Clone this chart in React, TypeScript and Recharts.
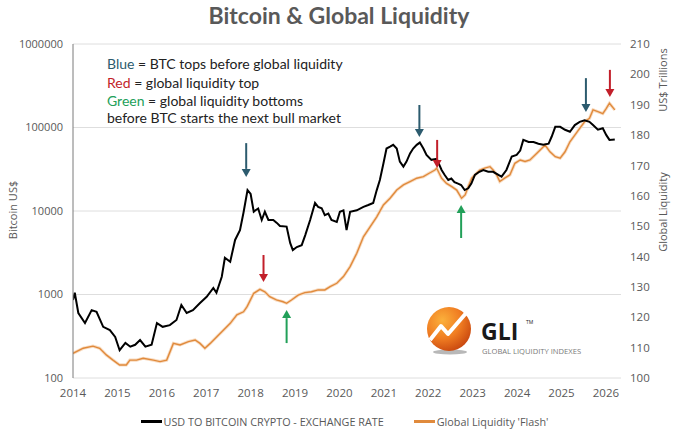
import React from 'react';
import { ComposedChart, Line, XAxis, YAxis, CartesianGrid, Legend, ReferenceLine } from 'recharts';

// BTC price (USD, log axis)
const btcDates = [
  2014.0, 2014.04, 2014.12, 2014.27, 2014.42, 2014.53, 2014.68, 2014.83, 2014.95, 2015.05,
  2015.18, 2015.29, 2015.4, 2015.51, 2015.63, 2015.77, 2015.89, 2016.02, 2016.18, 2016.33,
  2016.44, 2016.56, 2016.7, 2016.86, 2017.01, 2017.16, 2017.23, 2017.35, 2017.42, 2017.54,
  2017.65, 2017.76, 2017.84, 2017.93, 2018.0, 2018.07, 2018.11, 2018.17, 2018.25, 2018.32,
  2018.4, 2018.51, 2018.59, 2018.66, 2018.81, 2018.89, 2018.95, 2019.04, 2019.15, 2019.23,
  2019.34, 2019.45, 2019.52, 2019.6, 2019.67, 2019.75, 2019.82, 2019.94, 2020.01, 2020.09,
  2020.16, 2020.24, 2020.39, 2020.54, 2020.65, 2020.76, 2020.84, 2020.91, 2020.99, 2021.06,
  2021.14, 2021.21, 2021.29, 2021.36, 2021.44, 2021.51, 2021.59, 2021.66, 2021.74, 2021.81,
  2021.89, 2021.96, 2022.07, 2022.19, 2022.3, 2022.37, 2022.45, 2022.52, 2022.59, 2022.67,
  2022.74, 2022.82, 2022.9, 2022.97, 2023.05, 2023.15, 2023.24, 2023.35, 2023.46, 2023.58,
  2023.65, 2023.76, 2023.88, 2023.99, 2024.07, 2024.14, 2024.26, 2024.37, 2024.48, 2024.59,
  2024.71, 2024.78, 2024.86, 2024.97, 2025.08, 2025.19, 2025.3, 2025.41, 2025.52, 2025.63,
  2025.71, 2025.82, 2025.93, 2026.01, 2026.08, 2026.2,
];
const btcPrices = [
  860, 1050, 600, 455, 650, 620, 410, 375, 310, 215,
  263, 237, 250, 285, 237, 250, 455, 410, 430, 495,
  750, 600, 650, 790, 940, 1200, 1050, 1630, 2750, 2470,
  4500, 5900, 9600, 17800, 16000, 9800, 10200, 10700, 7800, 9800,
  7800, 7800, 7200, 6600, 6500, 4150, 3400, 3700, 3900, 5150,
  7800, 12500, 11200, 10800, 8900, 9300, 7800, 7400, 9800, 10200,
  5900, 9800, 10200, 11200, 11800, 12500, 17800, 23500, 37000, 56000,
  59000, 62000, 56000, 39000, 34000, 39000, 49000, 56000, 62000, 66000,
  56000, 47000, 41000, 42000, 31000, 27000, 23500, 24500, 22200, 21300,
  20500, 17800, 18700, 21300, 27000, 29500, 31000, 29500, 29500, 27000,
  25800, 31000, 45000, 47000, 53000, 71000, 67000, 67000, 64000, 62000,
  64000, 78000, 102000, 102000, 94000, 89000, 107000, 117000, 122000, 117000,
  107000, 94000, 98000, 81000, 71000, 72000,
];

// Global Liquidity 'Flash' (US$ trillions, right axis)
const gliDates = [
  2014.0, 2014.23, 2014.45, 2014.6, 2014.75, 2014.9, 2015.05, 2015.2, 2015.28, 2015.43,
  2015.58, 2015.81, 2015.96, 2016.11, 2016.26, 2016.41, 2016.6, 2016.75, 2016.86, 2016.97,
  2017.09, 2017.24, 2017.39, 2017.54, 2017.69, 2017.84, 2017.92, 2018.07, 2018.21, 2018.32,
  2018.43, 2018.58, 2018.73, 2018.81, 2018.92, 2019.07, 2019.22, 2019.37, 2019.52, 2019.67,
  2019.79, 2019.94, 2020.09, 2020.24, 2020.39, 2020.54, 2020.69, 2020.84, 2020.99, 2021.14,
  2021.29, 2021.44, 2021.59, 2021.74, 2021.89, 2022.04, 2022.15, 2022.19, 2022.3, 2022.41,
  2022.53, 2022.64, 2022.75, 2022.83, 2022.9, 2022.98, 2023.05, 2023.16, 2023.27, 2023.39,
  2023.46, 2023.54, 2023.61, 2023.72, 2023.84, 2023.95, 2024.07, 2024.18, 2024.29, 2024.41,
  2024.52, 2024.63, 2024.74, 2024.86, 2024.97, 2025.08, 2025.19, 2025.3, 2025.41, 2025.52,
  2025.63, 2025.71, 2025.82, 2025.93, 2026.01, 2026.08, 2026.2,
];
const gliValues = [
  108.1, 109.8, 110.5, 109.8, 107.6, 105.9, 104.3, 104.3, 105.9, 105.9,
  106.5, 105.9, 105.4, 105.9, 111.4, 110.9, 112, 112.5, 111.4, 109.8,
  111.4, 113.6, 115.8, 118, 120.8, 121.8, 123.5, 127.9, 129.2, 128.4,
  126.8, 125.7, 125.1, 124.6, 125.7, 127.3, 128.1, 128.4, 129, 129,
  130.1, 131.2, 133.4, 136.7, 141.1, 146.5, 149.8, 153.1, 157, 159.2,
  161.9, 163.6, 164.7, 165.8, 166.3, 167.6, 168.5, 169.1, 165.8, 164.1,
  163, 161.9, 159.2, 160.3, 163, 165.8, 166.9, 168.5, 169.1, 169.6,
  168.5, 166.9, 164.7, 165.8, 166.9, 170.7, 171.8, 171.3, 171.8, 173.5,
  175.1, 176.7, 174.5, 172.9, 172.4, 174.5, 177.8, 180, 182.2, 184.4,
  185.5, 188.3, 187.7, 187.1, 188.8, 190.5, 188.3,
];

const yearTicks = [2014, 2015, 2016, 2017, 2018, 2019, 2020, 2021, 2022, 2023, 2024, 2025, 2026];
const btcTicks = [100, 1000, 10000, 100000, 1000000];
const gliTicks = [100, 110, 120, 130, 140, 150, 160, 170, 180, 190, 200, 210];

const BTC_NAME = 'USD TO BITCOIN CRYPTO - EXCHANGE RATE';
const GLI_NAME = "Global Liquidity 'Flash'";
const legendOrder = [BTC_NAME, GLI_NAME];

// annotation arrows: date, start/end on the BTC axis
const arrowDates = [2017.9, 2018.29, 2018.81, 2021.8, 2022.2, 2022.74, 2025.55, 2026.09];
const arrowFrom = [65000, 2970, 262, 186000, 71000, 4750, 390000, 490000];
const arrowTo = [25600, 1410, 650, 77000, 32700, 11800, 153000, 232000];
const arrowKinds = ['blue', 'red', 'green', 'blue', 'red', 'green', 'blue', 'red'];

const COLORS: Record<string, string> = {
  blue: '#2c5b6e',
  red: '#c21f2a',
  green: '#22a059',
};
const GREY = '#595959';
const ORANGE = '#e08a3c';

const btcData = btcDates.map((date, i) => ({ date, btc: btcPrices[i] }));
const gliData = gliDates.map((date, i) => ({ date, gli: gliValues[i] }));

function ArrowShape(props: any) {
  const { x1, y1, x2, y2, stroke } = props;
  if (x1 == null) return null;
  const dir = y2 > y1 ? 1 : -1;
  const head = 8;
  return (
    <g>
      <line x1={x1} y1={y1} x2={x2} y2={y2 - dir * head} stroke={stroke} strokeWidth={2} />
      <polygon
        points={`${x2 - 4.5},${y2 - dir * head} ${x2 + 4.5},${y2 - dir * head} ${x2},${y2}`}
        fill={stroke}
      />
    </g>
  );
}

function LegendContent({ payload }: any) {
  const items = (payload || [])
    .filter((p: any) => legendOrder.includes(p.value))
    .sort((a: any, b: any) => legendOrder.indexOf(a.value) - legendOrder.indexOf(b.value));
  return (
    <div style={{ display: 'flex', justifyContent: 'center', gap: 30, paddingBottom: 5, paddingLeft: 14, height: 20, alignItems: 'center' }}>
      {items.map((p: any) => (
        <div key={p.value} style={{ display: 'flex', alignItems: 'center', fontFamily: '"Open Sans", sans-serif', fontSize: 10.8, color: GREY }}>
          <span style={{ display: 'inline-block', width: 21, height: 3, background: p.color, marginRight: 2 }} />
          {p.value}
        </div>
      ))}
    </div>
  );
}

function Overlay() {
  return (
    <svg width={675} height={436} style={{ position: 'absolute', left: 0, top: 0, pointerEvents: 'none' }}>
      <defs>
        <radialGradient id="gliBall" cx="35%" cy="30%" r="75%">
          <stop offset="0%" stopColor="#fbb03b" />
          <stop offset="55%" stopColor="#f07d22" />
          <stop offset="100%" stopColor="#c9480f" />
        </radialGradient>
      </defs>
      <text x={339} y={24} textAnchor="middle" fontFamily="Lato, sans-serif" fontWeight={700} fontSize={23} fill={GREY}>
        Bitcoin &amp; Global Liquidity
      </text>
      <text transform="translate(17,210) rotate(-90)" textAnchor="middle" fontFamily='"Open Sans", sans-serif' fontSize={11} fill={GREY}>
        Bitcoin US$
      </text>
      <text transform="translate(667,80) rotate(-90)" textAnchor="middle" fontFamily='"Open Sans", sans-serif' fontSize={11} fill={GREY}>
        US$ Trillions
      </text>
      <text transform="translate(667,212) rotate(-90)" textAnchor="middle" fontFamily='"Open Sans", sans-serif' fontSize={11} fill={GREY}>
        Global Liquidity
      </text>
      <g fontFamily="Lato, sans-serif" fontSize={14} fill="#222">
        <text x={107} y={69}>
          <tspan fill={COLORS.blue}>Blue</tspan> = BTC tops before global liquidity
        </text>
        <text x={107} y={88}>
          <tspan fill={COLORS.red}>Red</tspan> = global liquidity top
        </text>
        <text x={107} y={106}>
          <tspan fill={COLORS.green}>Green</tspan> = global liquidity bottoms
        </text>
        <text x={107} y={123}>before BTC starts the next bull market</text>
      </g>
      <ellipse cx={450} cy={352} rx={17} ry={2.5} fill="#9a9a9a" opacity={0.7} />
      <circle cx={449} cy={329} r={22} fill="url(#gliBall)" />
      <path d="M430,340 L441,326 L448,334 L467,312" stroke="#fff" strokeWidth={4} fill="none" strokeLinejoin="round" />
      <text x={481} y={340} fontFamily='"Open Sans", sans-serif' fontWeight={700} fontSize={23} fill="#1a1a1a">GLI</text>
      <text x={526} y={324} fontFamily='"Open Sans", sans-serif' fontSize={5} fill="#1a1a1a">TM</text>
      <text x={482} y={354} fontFamily='"Open Sans", sans-serif' fontSize={7.6} fill="#7a7a7a">GLOBAL LIQUIDITY INDEXES</text>
    </svg>
  );
}

export default function App() {
  return (
    <div style={{ position: 'absolute', left: 0, top: 0, width: 675, height: 436, background: '#fff' }}>
      <ComposedChart width={675} height={436} margin={{ top: 44, right: 0, bottom: 0, left: 0 }}>
        <CartesianGrid yAxisId="left" horizontal vertical={false} stroke="#dedede" />
        <XAxis
          dataKey="date"
          type="number"
          domain={[2014, 2026.34]}
          ticks={yearTicks}
          allowDataOverflow
          axisLine={false}
          tickLine={false}
          tickMargin={5}
          height={33}
          tick={{ fill: GREY, fontSize: 11.5, fontFamily: '"Open Sans", sans-serif' }}
        />
        <YAxis
          yAxisId="left"
          scale="log"
          domain={[100, 1000000]}
          ticks={btcTicks}
          allowDataOverflow
          width={73}
          axisLine={{ stroke: '#7a7a7a' }}
          tickLine={false}
          tickMargin={4}
          tick={{ fill: GREY, fontSize: 11, fontFamily: '"Open Sans", sans-serif' }}
        />
        <YAxis
          yAxisId="right"
          orientation="right"
          domain={[100, 210]}
          ticks={gliTicks}
          width={54}
          axisLine={false}
          tickLine={false}
          tickMargin={3}
          tick={{ fill: GREY, fontSize: 11.5, fontFamily: '"Open Sans", sans-serif' }}
        />
        <Legend verticalAlign="bottom" content={<LegendContent />} />
        <Line
          yAxisId="right"
          data={gliData}
          dataKey="gli"
          name="gli-glow"
          stroke="#f8dcc2"
          strokeWidth={3.2}
          dot={false}
          legendType="none"
          isAnimationActive={false}
        />
        <Line
          yAxisId="right"
          data={gliData}
          dataKey="gli"
          name={GLI_NAME}
          stroke={ORANGE}
          strokeWidth={1.4}
          dot={false}
          isAnimationActive={false}
        />
        <Line
          yAxisId="left"
          data={btcData}
          dataKey="btc"
          name={BTC_NAME}
          stroke="#000"
          strokeWidth={2}
          dot={false}
          isAnimationActive={false}
        />
        {arrowDates.map((d, i) => (
          <ReferenceLine
            key={i}
            yAxisId="left"
            segment={[{ x: d, y: arrowFrom[i] }, { x: d, y: arrowTo[i] }]}
            stroke={COLORS[arrowKinds[i]]}
            ifOverflow="visible"
            shape={ArrowShape}
          />
        ))}
      </ComposedChart>
      <Overlay />
    </div>
  );
}
